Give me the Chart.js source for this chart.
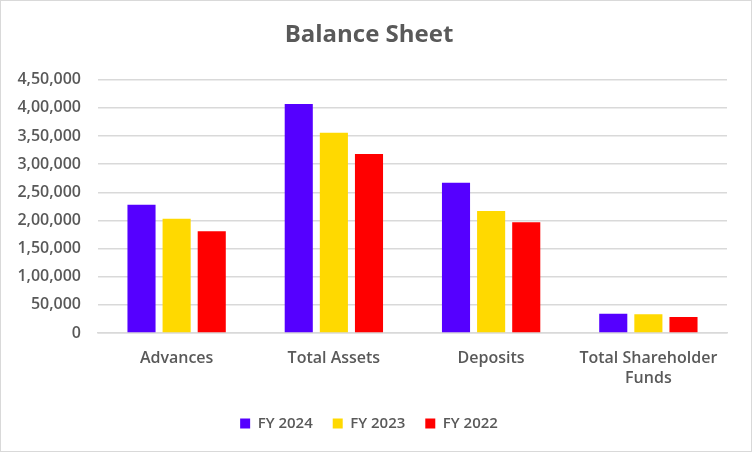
<!DOCTYPE html>
<html>
<head>
<meta charset="utf-8">
<script src="https://cdn.jsdelivr.net/npm/chart.js@4"></script>
<style>
  body{margin:0;background:#fff;}
  .box{width:750px;height:450px;border:1px solid #d9d9d9;background:#fff;}
</style>
</head>
<body>
<div class="box"><canvas id="chart" width="750" height="450"></canvas></div>
<script>
const categories = ["Advances", "Total Assets", "Deposits", ["Total Shareholder", "Funds"]];
const seriesNames = ["FY 2024", "FY 2023", "FY 2022"];
const fy2024 = [228000, 407000, 267000, 34000];
const fy2023 = [203000, 356000, 217000, 33500];
const fy2022 = [181000, 318000, 197000, 28500];
const colors = ["#5500ff", "#ffd900", "#ff0000"];

// 4,50,000 style grouping
function inr(v){
  let s = String(Math.round(v));
  if(s.length<=3) return s;
  let last = s.slice(-3), rest = s.slice(0,-3);
  rest = rest.replace(/\B(?=(\d{2})+(?!\d))/g, ",");
  return rest+","+last;
}

const txt = "#595959";
const font = "'Open Sans', Lato, sans-serif";

new Chart(document.getElementById("chart"), {
  type: "bar",
  data: {
    labels: categories,
    datasets: [fy2024, fy2023, fy2022].map((d,i)=>({
      label: seriesNames[i], data: d, backgroundColor: colors[i],
      categoryPercentage: 0.67, barPercentage: 0.8
    }))
  },
  options: {
    responsive: false,
    animation: false,
    layout: {padding: {left: 10, right: 24, top: 0, bottom: 10}},
    plugins: {
      title: {display: true, text: "Balance Sheet", color: txt,
        font: {family: font, size: 24, weight: "bold"}, padding: {top: 20, bottom: 30}},
      legend: {position: "bottom",
        labels: {color: txt, font: {family: font, size: 15, weight: 600}, boxWidth: 10, boxHeight: 10, padding: 20}},
      tooltip: {enabled: false}
    },
    scales: {
      x: {
        grid: {display: false},
        border: {color: "#d9d9d9", width: 1.5},
        ticks: {color: txt, font: {family: font, size: 16, weight: 600, lineHeight: 1.25}, padding: 7, maxRotation: 0},
        afterFit: s => { s.height = 63; }
      },
      y: {
        min: 0, max: 450000,
        ticks: {stepSize: 50000, color: txt, font: {family: font, size: 16, weight: 600}, padding: 17, callback: v => inr(v)},
        grid: {color: "#d9d9d9", lineWidth: 1.5, drawTicks: false},
        border: {display: false},
        afterFit: s => { s.width = 87; }
      }
    }
  }
});
</script>
</body>
</html>
